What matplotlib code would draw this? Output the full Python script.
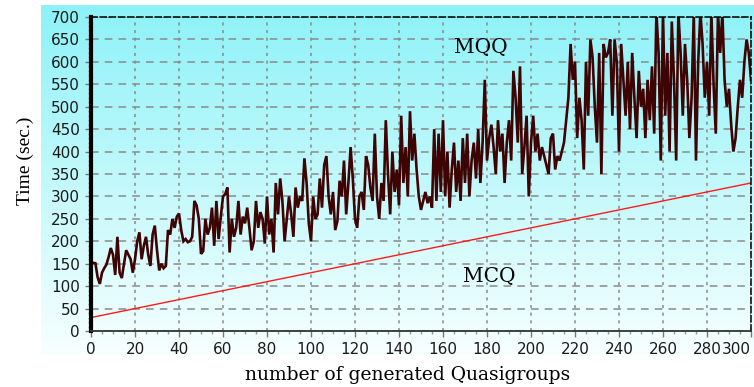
import numpy as np
import matplotlib
matplotlib.use("Agg")
import matplotlib.pyplot as plt
from matplotlib.ticker import MultipleLocator

# MQQ timings, one value per generated quasigroup
mqq = [150, 152, 151, 120, 105, 130, 140, 148, 165, 185,
       170, 125, 210, 130, 118, 150, 180, 170, 160, 130,
       160, 200, 220, 160, 190, 210, 170, 145, 215, 235,
       180, 135, 150, 140, 145, 225, 215, 250, 230, 255,
       262, 225, 200, 205, 198, 200, 210, 290, 280, 250,
       172, 178, 250, 215, 230, 275, 190, 290, 205, 255,
       300, 305, 320, 175, 250, 210, 230, 290, 215, 255,
       240, 275, 230, 180, 200, 290, 230, 265, 250, 195,
       300, 215, 250, 175, 330, 260, 340, 290, 200, 250,
       300, 260, 210, 320, 275, 300, 290, 385, 330, 240,
       200, 300, 250, 260, 340, 275, 370, 390, 300, 260,
       310, 225, 245, 335, 300, 380, 260, 330, 410, 340,
       250, 230, 300, 310, 270, 390, 370, 320, 290, 440,
       300, 250, 330, 290, 470, 350, 260, 400, 310, 360,
       280, 480, 330, 410, 300, 490, 380, 440, 360, 300,
       270, 290, 310, 285, 300, 275, 450, 290, 440, 310,
       470, 300, 400, 275, 360, 420, 310, 380, 290, 430,
       330, 440, 300, 380, 420, 340, 450, 330, 420, 560,
       380, 430, 460, 410, 350, 470, 400, 440, 330, 420,
       470, 380, 580, 520, 420, 590, 350, 410, 480, 300,
       420, 480, 400, 440, 380, 410, 390, 370, 350, 430,
       440, 360, 390, 380, 400, 420, 470, 520, 640, 560,
       600, 430, 520, 470, 360, 600, 480, 650, 610, 500,
       420, 620, 350, 640, 610, 620, 650, 480, 650, 600,
       400, 640, 560, 480, 600, 450, 620, 520, 430, 580,
       500, 540, 430, 560, 470, 590, 440, 710, 620, 380,
       710, 480, 620, 400, 690, 560, 380, 710, 620, 480,
       640, 560, 430, 520, 710, 380, 600, 710, 640, 520,
       600, 480, 710, 550, 440, 710, 620, 710, 560, 500,
       540, 460, 400, 430, 500, 560, 520, 600, 650, 620,
       560]
n_groups = np.arange(len(mqq))

# MCQ grows linearly
mcq_x = [0, 300]
mcq_y = [30, 330]

fig = plt.figure(figsize=(7.54, 3.87), dpi=100)

# cyan -> white background behind the chart
bg = fig.add_axes([0.054, 0.083, 0.946, 0.904])
grad = np.linspace(1, 0, 256).reshape(-1, 1)
top = np.array([0.55, 0.95, 0.97])
bot = np.array([0.97, 1.0, 1.0])
img = bot + (top - bot) * grad[..., None]
bg.imshow(img, aspect='auto', extent=[0, 1, 0, 1])
bg.axis('off')

ax = fig.add_axes([0.1207, 0.1447, 0.8753, 0.8113])
ax.patch.set_alpha(0)

ax.plot(n_groups, mqq, color='#3e0404', lw=1.9, solid_joinstyle='miter')
ax.plot(mcq_x, mcq_y, color='#ff1a1a', lw=1.0)

ax.set_xlim(0, 300)
ax.set_ylim(0, 700)
ax.xaxis.set_major_locator(MultipleLocator(20))
ax.xaxis.set_minor_locator(MultipleLocator(5))
ax.yaxis.set_major_locator(MultipleLocator(50))
ax.yaxis.set_minor_locator(MultipleLocator(10))

ax.grid(axis='x', which='major', color='#8a8a8a', lw=1.1, ls=(0, (2, 3)))
ax.grid(axis='y', which='major', color='#8a8a8a', lw=1.1, ls=(0, (5, 4)))

for s in ['top', 'right']:
    ax.spines[s].set_linestyle((0, (4, 2)))
    ax.spines[s].set_linewidth(1.1)
ax.spines['left'].set_linewidth(3)
ax.spines['bottom'].set_linewidth(1.3)
ax.spines['bottom'].set_color('#333333')

ax.tick_params(which='major', length=4, width=1, color='#777777', labelsize=11,
               pad=4, labelcolor='#1a1a1a', labelfontfamily='DejaVu Sans')
ax.tick_params(which='minor', length=2, width=1, color='#999999')
fig.canvas.draw()
# keep the last x label inside the figure
for lab in ax.get_xticklabels():
    if lab.get_text() == '300':
        lab.set_horizontalalignment('right')

fig.text(0.033, 0.584, 'Time (sec.)', family='Liberation Serif', fontsize=14,
         rotation=90, ha='center', va='center')
fig.text(0.54, 0.03, 'number of generated Quasigroups', family='DejaVu Serif',
         fontsize=13.5, ha='center', va='center')

ax.text(177, 633, 'MQQ', family='DejaVu Serif', fontsize=14.5,
        ha='center', va='center')
ax.text(181, 122, 'MCQ', family='DejaVu Serif', fontsize=14.5,
        ha='center', va='center')

fig.savefig('out.png', dpi=100)
